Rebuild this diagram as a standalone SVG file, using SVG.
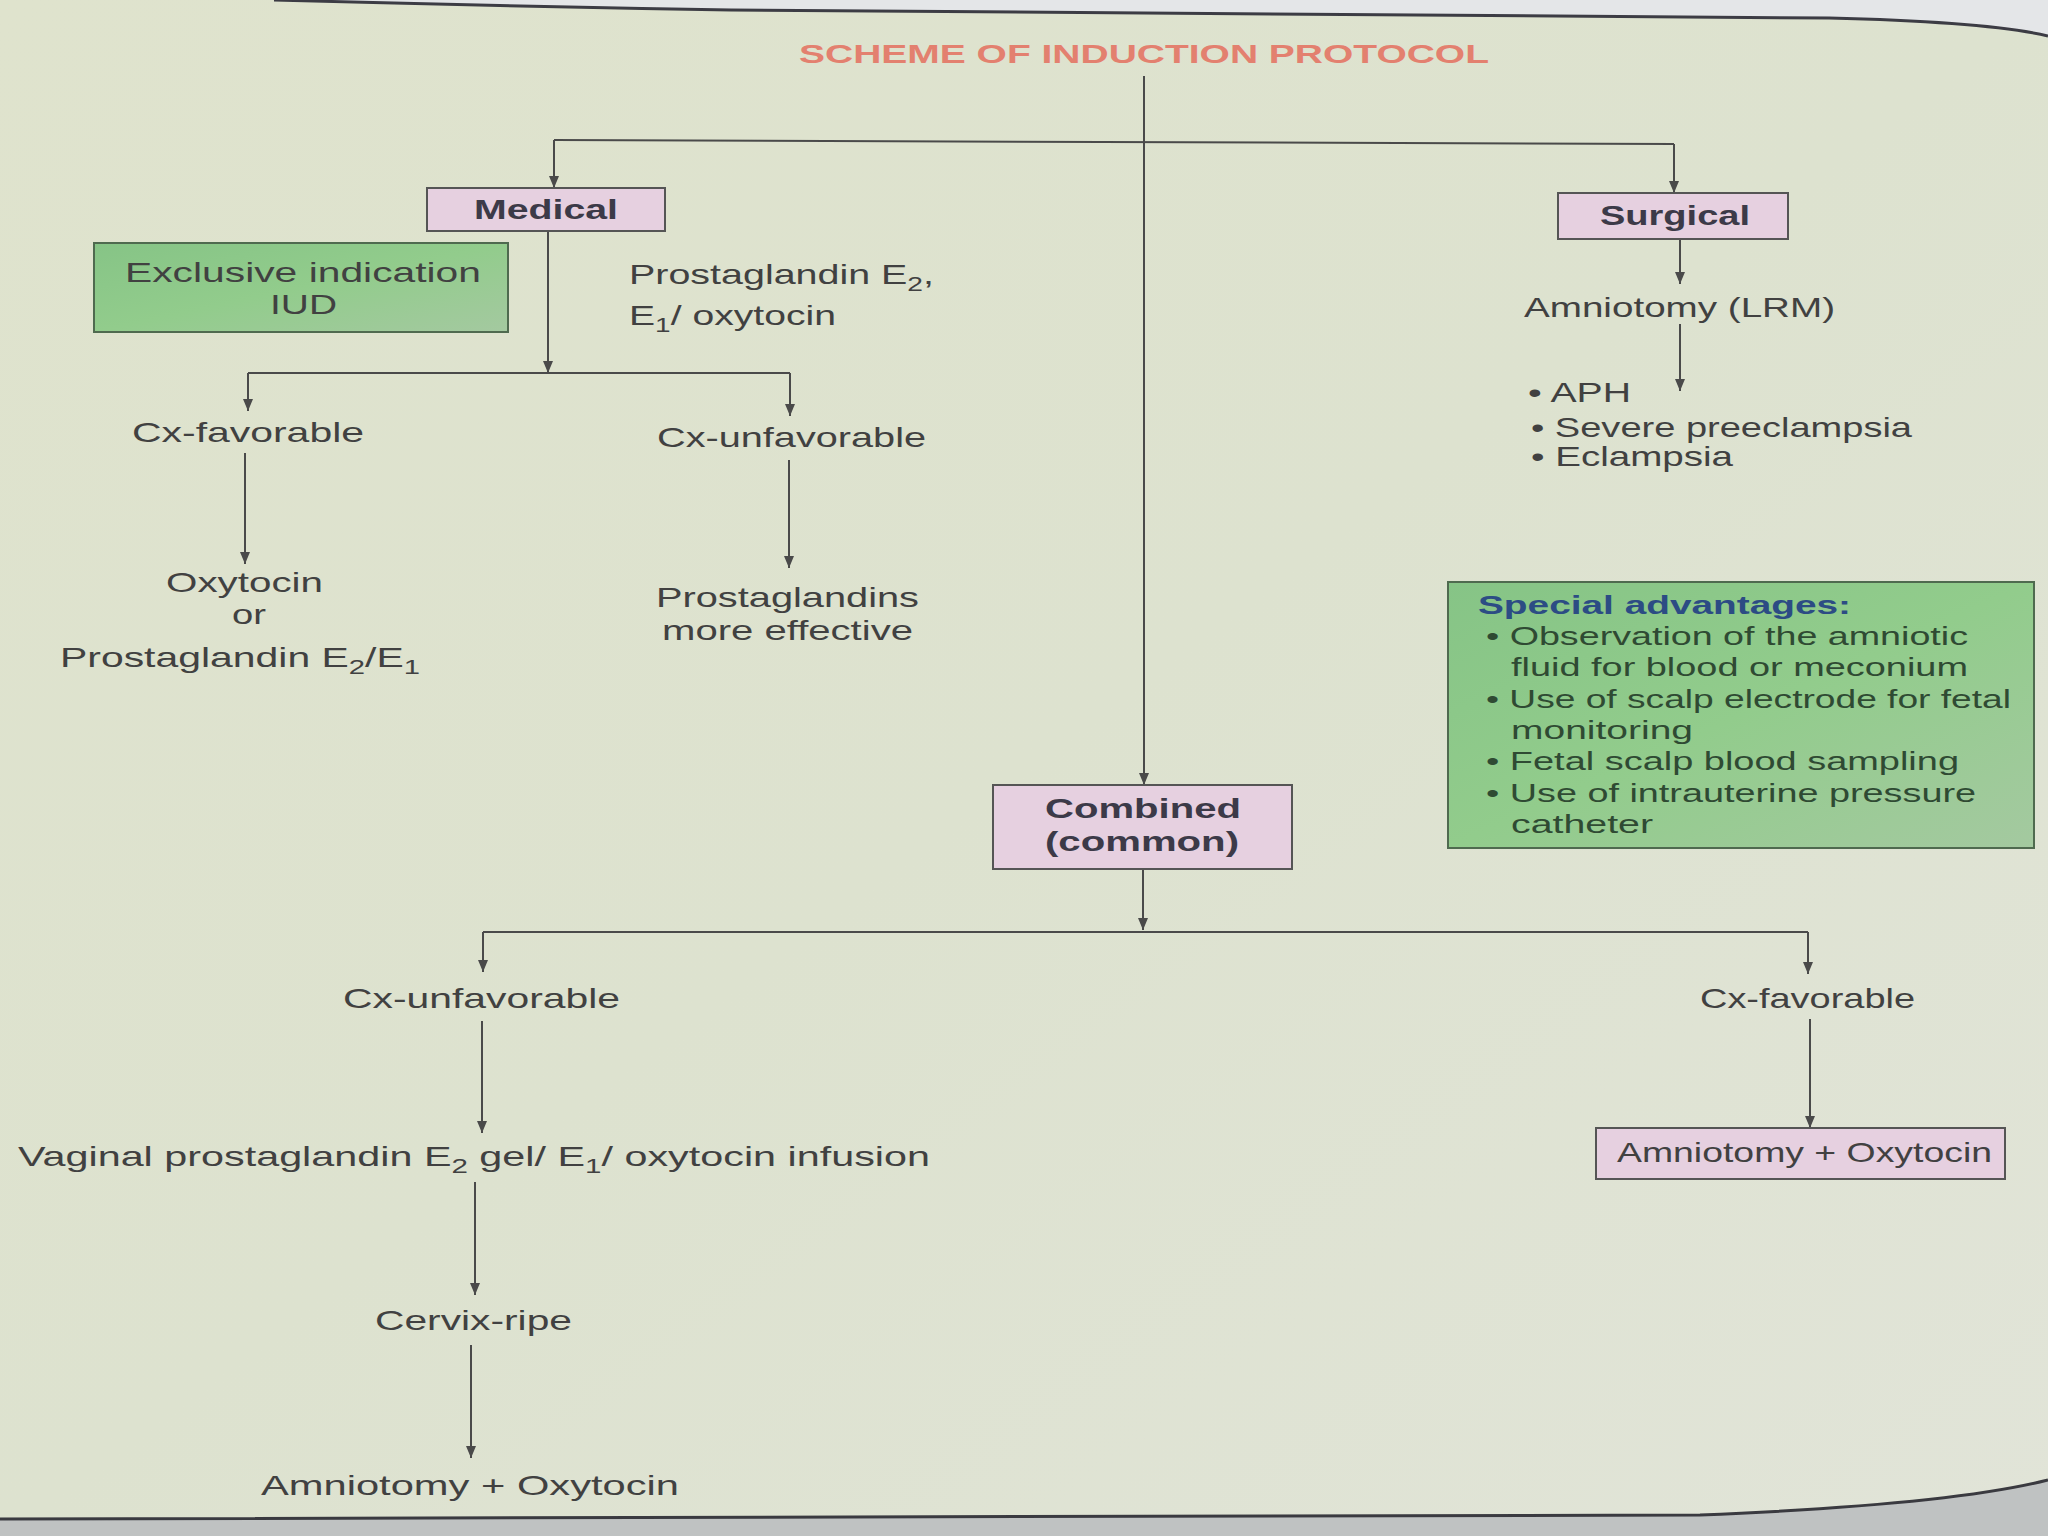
<svg xmlns="http://www.w3.org/2000/svg" width="2048" height="1536" viewBox="0 0 2048 1536">
<defs>
<linearGradient id="bg" x1="0" y1="0" x2="1" y2="1">
<stop offset="0" stop-color="#dfe3cd"/>
<stop offset="0.5" stop-color="#dde2cf"/>
<stop offset="1" stop-color="#e1e4d8"/>
</linearGradient>
<linearGradient id="green" x1="0" y1="0" x2="1" y2="1">
<stop offset="0" stop-color="#86c486"/>
<stop offset="0.5" stop-color="#92cc8c"/>
<stop offset="1" stop-color="#a4c9a0"/>
</linearGradient>
<marker id="ah" viewBox="0 0 10 12" refX="5" refY="12" markerWidth="10" markerHeight="12" markerUnits="userSpaceOnUse" orient="auto-start-reverse">
<path d="M0,0 L10,0 L5,12 Z" fill="#4a4a4a" transform="rotate(0)"/>
</marker>
<marker id="arr" viewBox="0 0 12 10" refX="12" refY="5" markerWidth="12" markerHeight="10" markerUnits="userSpaceOnUse" orient="auto">
<path d="M0,0 L12,5 L0,10 Z" fill="#4a4a4a"/>
</marker>
<style>
.t{font-family:"Liberation Sans",Arial,sans-serif;font-size:28px;fill:#414141;}
.b{font-family:"Liberation Sans",Arial,sans-serif;font-size:28px;font-weight:bold;fill:#3c3a48;}
.s{font-family:"Liberation Sans",Arial,sans-serif;font-size:26px;fill:#2f4a33;}
.title{font-family:"Liberation Sans",Arial,sans-serif;font-size:26px;font-weight:bold;fill:#e3806f;}
.sh{font-family:"Liberation Sans",Arial,sans-serif;font-size:26px;font-weight:bold;fill:#2c4c84;}
.pink{fill:#e6d0e0;stroke:#555;stroke-width:2;}
.gbox{fill:url(#green);stroke:#4f6a4f;stroke-width:2;}
.c{fill:none;stroke:#4a4a4a;stroke-width:2;}
.a{fill:none;stroke:#4a4a4a;stroke-width:2;marker-end:url(#arr);}
</style>
</defs>

<!-- background / page -->
<rect x="0" y="0" width="2048" height="1536" fill="url(#bg)"/>
<path d="M274,0 Q500,6 731,10 L1829,18 Q1990,22 2048,36 L2048,0 Z" fill="#e4e6e8"/>
<path d="M274,0 Q500,6 731,10 L1829,18 Q1990,22 2048,36" fill="none" stroke="#3c3c44" stroke-width="3"/>
<path d="M0,1519 L1700,1515 Q1950,1505 2048,1480 L2048,1536 L0,1536 Z" fill="#bfc2c2"/>
<path d="M0,1519 L1700,1515 Q1950,1505 2048,1480" fill="none" stroke="#3a3a40" stroke-width="3"/>

<text class="title" x="799" y="63" textLength="690" lengthAdjust="spacingAndGlyphs">SCHEME OF INDUCTION PROTOCOL</text>

<g id="connectors">
<path class="a" d="M1144,76 V785"/>
<path class="c" d="M554,140 L1674,144"/>
<path class="a" d="M554,140 V188"/>
<path class="a" d="M1674,144 V193"/>
<path class="a" d="M548,231 V373"/>
<path class="c" d="M248,373 H790"/>
<path class="a" d="M248,373 V411"/>
<path class="a" d="M790,373 V416"/>
<path class="a" d="M245,453 V564"/>
<path class="a" d="M789,460 V568"/>
<path class="a" d="M1680,239 V284"/>
<path class="a" d="M1680,324 V391"/>
<path class="a" d="M1143,869 V930"/>
<path class="c" d="M483,932 H1808"/>
<path class="a" d="M483,932 V972"/>
<path class="a" d="M1808,932 V974"/>
<path class="a" d="M482,1021 V1133"/>
<path class="a" d="M475,1182 V1295"/>
<path class="a" d="M471,1345 V1458"/>
<path class="a" d="M1810,1019 V1128"/>
</g>

<g id="medical">
<rect class="pink" x="427" y="188" width="238" height="43"/>
<text class="b" x="474" y="219" textLength="144" lengthAdjust="spacingAndGlyphs">Medical</text>
</g>

<g id="surgical">
<rect class="pink" x="1558" y="193" width="230" height="46"/>
<text class="b" x="1600" y="225" textLength="150" lengthAdjust="spacingAndGlyphs">Surgical</text>
</g>

<g id="exclusive">
<rect class="gbox" x="94" y="243" width="414" height="89"/>
<text class="t" x="125" y="282" textLength="356" lengthAdjust="spacingAndGlyphs">Exclusive indication</text>
<text class="t" x="270" y="314" textLength="67" lengthAdjust="spacingAndGlyphs">IUD</text>
</g>

<g id="medical-agents">
<text class="t" x="629" y="284" textLength="305" lengthAdjust="spacingAndGlyphs">Prostaglandin E<tspan font-size="20" dy="7">2</tspan><tspan dy="-7">,</tspan></text>
<text class="t" x="629" y="325" textLength="207" lengthAdjust="spacingAndGlyphs">E<tspan font-size="20" dy="7">1</tspan><tspan dy="-7">/ oxytocin</tspan></text>
</g>

<g id="cx-fav-top">
<text class="t" x="132" y="442" textLength="232" lengthAdjust="spacingAndGlyphs">Cx-favorable</text>
</g>
<g id="cx-unfav-top">
<text class="t" x="657" y="447" textLength="269" lengthAdjust="spacingAndGlyphs">Cx-unfavorable</text>
</g>

<g id="oxytocin-or">
<text class="t" x="166" y="592" textLength="157" lengthAdjust="spacingAndGlyphs">Oxytocin</text>
<text class="t" x="232" y="624" textLength="34" lengthAdjust="spacingAndGlyphs">or</text>
<text class="t" x="60" y="667" textLength="360" lengthAdjust="spacingAndGlyphs">Prostaglandin E<tspan font-size="20" dy="7">2</tspan><tspan dy="-7">/E</tspan><tspan font-size="20" dy="7">1</tspan></text>
</g>

<g id="prostaglandins">
<text class="t" x="656" y="607" textLength="263" lengthAdjust="spacingAndGlyphs">Prostaglandins</text>
<text class="t" x="662" y="640" textLength="251" lengthAdjust="spacingAndGlyphs">more effective</text>
</g>

<g id="amniotomy-lrm">
<text class="t" x="1524" y="317" textLength="311" lengthAdjust="spacingAndGlyphs">Amniotomy (LRM)</text>
</g>

<g id="indications">
<text class="t" x="1528" y="402" textLength="103" lengthAdjust="spacingAndGlyphs">• APH</text>
<text class="t" x="1531" y="437" textLength="381" lengthAdjust="spacingAndGlyphs">• Severe preeclampsia</text>
<text class="t" x="1531" y="466" textLength="202" lengthAdjust="spacingAndGlyphs">• Eclampsia</text>
</g>

<g id="special">
<rect class="gbox" x="1448" y="582" width="586" height="266"/>
<text class="sh" x="1478" y="614" textLength="373" lengthAdjust="spacingAndGlyphs">Special advantages:</text>
<text class="s" x="1486" y="645" textLength="482" lengthAdjust="spacingAndGlyphs">• Observation of the amniotic</text>
<text class="s" x="1511" y="676" textLength="457" lengthAdjust="spacingAndGlyphs">fluid for blood or meconium</text>
<text class="s" x="1486" y="708" textLength="525" lengthAdjust="spacingAndGlyphs">• Use of scalp electrode for fetal</text>
<text class="s" x="1511" y="739" textLength="182" lengthAdjust="spacingAndGlyphs">monitoring</text>
<text class="s" x="1486" y="770" textLength="473" lengthAdjust="spacingAndGlyphs">• Fetal scalp blood sampling</text>
<text class="s" x="1486" y="802" textLength="490" lengthAdjust="spacingAndGlyphs">• Use of intrauterine pressure</text>
<text class="s" x="1511" y="833" textLength="142" lengthAdjust="spacingAndGlyphs">catheter</text>
</g>

<g id="combined">
<rect class="pink" x="993" y="785" width="299" height="84"/>
<text class="b" x="1045" y="818" textLength="196" lengthAdjust="spacingAndGlyphs">Combined</text>
<text class="b" x="1045" y="851" textLength="194" lengthAdjust="spacingAndGlyphs">(common)</text>
</g>

<g id="cx-unfav-bottom">
<text class="t" x="343" y="1008" textLength="277" lengthAdjust="spacingAndGlyphs">Cx-unfavorable</text>
</g>

<g id="vaginal">
<text class="t" x="18" y="1166" textLength="912" lengthAdjust="spacingAndGlyphs">Vaginal prostaglandin E<tspan font-size="20" dy="7">2</tspan><tspan dy="-7"> gel/ E</tspan><tspan font-size="20" dy="7">1</tspan><tspan dy="-7">/ oxytocin infusion</tspan></text>
</g>

<g id="cervix-ripe">
<text class="t" x="375" y="1330" textLength="197" lengthAdjust="spacingAndGlyphs">Cervix-ripe</text>
</g>

<g id="amnio-oxy-left">
<text class="t" x="261" y="1495" textLength="418" lengthAdjust="spacingAndGlyphs">Amniotomy + Oxytocin</text>
</g>

<g id="cx-fav-right">
<text class="t" x="1700" y="1008" textLength="215" lengthAdjust="spacingAndGlyphs">Cx-favorable</text>
</g>

<g id="amnio-oxy-right">
<rect class="pink" x="1596" y="1128" width="409" height="51"/>
<text class="t" x="1617" y="1162" textLength="375" lengthAdjust="spacingAndGlyphs">Amniotomy + Oxytocin</text>
</g>
</svg>
